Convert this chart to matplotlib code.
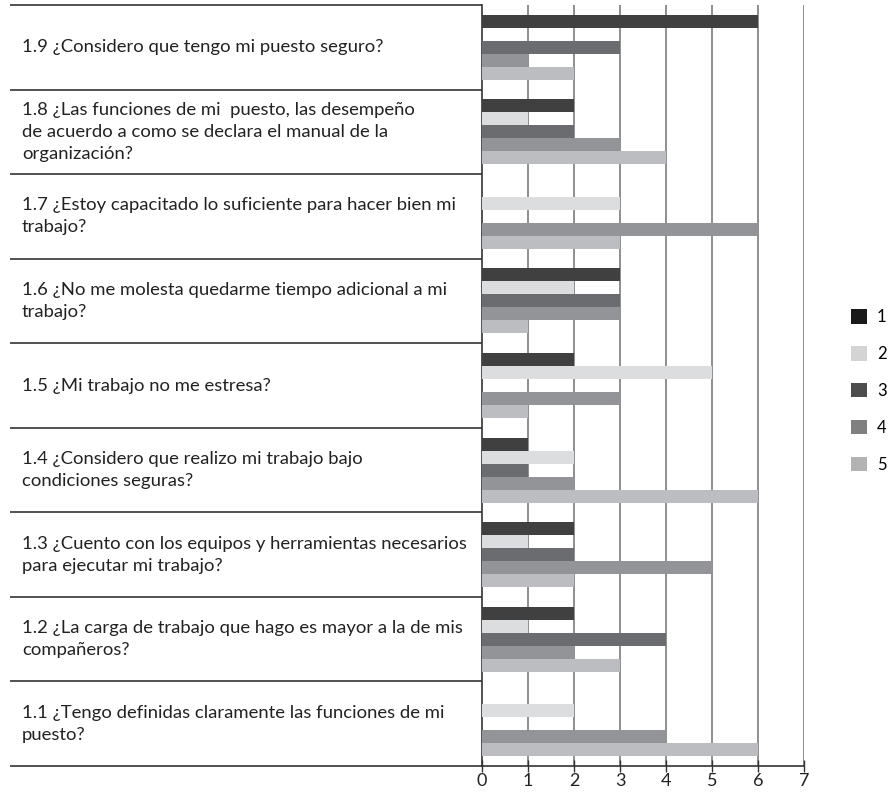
import matplotlib
matplotlib.use("Agg")
import matplotlib.pyplot as plt
import matplotlib.transforms as mtransforms
from matplotlib.patches import Patch
import numpy as np

plt.rcParams['font.family'] = ['Lato', 'DejaVu Sans']

questions = [
    "1.1 ¿Tengo definidas claramente las funciones de mi\npuesto?",
    "1.2 ¿La carga de trabajo que hago es mayor a la de mis\ncompañeros?",
    "1.3 ¿Cuento con los equipos y herramientas necesarios\npara ejecutar mi trabajo?",
    "1.4 ¿Considero que realizo mi trabajo bajo\ncondiciones seguras?",
    "1.5 ¿Mi trabajo no me estresa?",
    "1.6 ¿No me molesta quedarme tiempo adicional a mi\ntrabajo?",
    "1.7 ¿Estoy capacitado lo suficiente para hacer bien mi\ntrabajo?",
    "1.8 ¿Las funciones de mi  puesto, las desempeño\nde acuerdo a como se declara el manual de la\norganización?",
    "1.9 ¿Considero que tengo mi puesto seguro?",
]
series_names = ["1", "2", "3", "4", "5"]
s1 = [0, 2, 2, 1, 2, 3, 0, 2, 6]
s2 = [2, 1, 1, 2, 5, 2, 3, 1, 0]
s3 = [0, 4, 2, 1, 0, 3, 0, 2, 3]
s4 = [4, 2, 5, 2, 3, 3, 6, 3, 1]
s5 = [6, 3, 2, 6, 1, 1, 3, 4, 2]
series = [s1, s2, s3, s4, s5]
bar_colors = ["#404040", "#dcdddf", "#6b6c70", "#939497", "#bcbdc0"]
legend_colors = ["#1a1a1a", "#d4d4d4", "#4d4d4d", "#808080", "#b3b3b3"]
xticks = [0, 1, 2, 3, 4, 5, 6, 7]

W, H = 888, 799
fig = plt.figure(figsize=(W / 100, H / 100), dpi=100)
x0, x1, ytop, ybot = 482, 804, 5, 766
ax = fig.add_axes([x0 / W, (H - ybot) / H, (x1 - x0) / W, (ybot - ytop) / H])

n = len(questions)
y = np.arange(n)
bh = 0.154
for i, vals in enumerate(series):
    ax.barh(y + (2 - i) * bh, vals, height=bh, color=bar_colors[i], zorder=3)

ax.set_xlim(0, 7)
ax.set_ylim(-0.5, n - 0.5)
ax.set_xticks(xticks)
ax.set_xticklabels([str(t) for t in xticks], fontsize=13, color="#222222")
ax.set_yticks([])
ax.tick_params(axis='x', direction='inout', length=8, width=1, color="#333333", pad=1)
for xv in xticks[1:]:
    ax.axvline(xv, color="#707070", lw=1.1, zorder=1)
for s in ['top', 'right']:
    ax.spines[s].set_visible(False)
ax.spines['left'].set_color("#333333")
ax.spines['left'].set_linewidth(1.2)
ax.spines['bottom'].set_color("#333333")
ax.spines['bottom'].set_linewidth(1.2)

# label table on the left
trans = mtransforms.blended_transform_factory(ax.transAxes, ax.transData)
left_ax = (10 - x0) / (x1 - x0)
for b in np.arange(-0.5, n, 1.0):
    ax.plot([left_ax, 0], [b, b], transform=trans, color="#333333", lw=1.2,
            clip_on=False, zorder=4, solid_capstyle='butt')
text_x = (22 - x0) / (x1 - x0)
for yi, q in zip(y, questions):
    ax.text(text_x, yi, q, transform=trans, ha='left', va='center',
            fontsize=13.3, color="#222222", linespacing=1.45)

handles = [Patch(facecolor=c, edgecolor='none') for c in legend_colors]
fig.legend(handles, series_names, loc='center left',
           bbox_to_anchor=(851 / W, 1 - 391 / H), frameon=False,
           fontsize=12, handlelength=0.95, handleheight=0.95,
           labelspacing=1.25, handletextpad=0.6, borderaxespad=0,
           borderpad=0)

fig.savefig("out.png", dpi=100)
